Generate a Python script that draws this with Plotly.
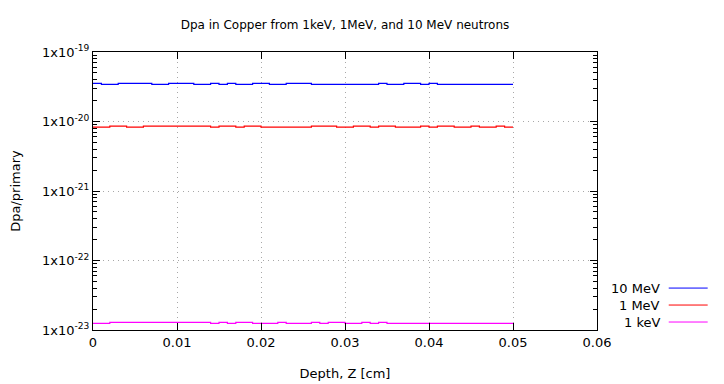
import plotly.graph_objects as go

# Bin left edges (cm), 50 bins of 0.001 cm from 0 to 0.05
depth_edges = [round(0.001 * i, 3) for i in range(51)]

# Dpa/primary per bin
H10, L10 = 3.53e-20, 3.41e-20
dpa_10MeV_pattern = "HLLHHHHLLHHHLLHLHLLHHLLHHHLLLLLLLLHLLHHLHLLLLLLLLL"
H1, L1 = 8.59e-21, 8.31e-21
dpa_1MeV_pattern = "LLHHLLHHHHHHHHLHHLHHLLLLLLHHHLLHHLHHLLLHLHHLLHLLHL"
Hk, Lk = 1.285e-23, 1.245e-23
dpa_1keV_pattern = "LLHHHHHHHHHHHHLHLHHLLLHLLLHLHHLLHLHLLLLLLLLLLLLLLL"

dpa_10MeV = [H10 if c == "H" else L10 for c in dpa_10MeV_pattern]
dpa_1MeV = [H1 if c == "H" else L1 for c in dpa_1MeV_pattern]
dpa_1keV = [Hk if c == "H" else Lk for c in dpa_1keV_pattern]

series_names = ["10 MeV", "1 MeV", "1 keV"]
series_values = [dpa_10MeV, dpa_1MeV, dpa_1keV]
series_colors = ["#0000ff", "#ff0000", "#ff00ff"]

x_tickvals = [0, 0.01, 0.02, 0.03, 0.04, 0.05, 0.06]
x_ticktext = ["0", "0.01", "0.02", "0.03", "0.04", "0.05", "0.06"]
y_exponents = [-19, -20, -21, -22, -23]

FONT = "DejaVu Sans"

fig = go.Figure()
for name, vals, col in zip(series_names, series_values, series_colors):
    fig.add_trace(go.Scatter(
        x=depth_edges,
        y=vals + [vals[-1]],
        mode="lines",
        line=dict(color=col, width=1.2, shape="hv"),
        name=name,
        showlegend=False,
    ))

minor_y = []
for e in range(-23, -19):
    for m in range(2, 10):
        minor_y.append(m * 10.0 ** e)

axis_common = dict(
    showline=True, linecolor="black", linewidth=1, mirror="ticks",
    ticks="inside", ticklen=7, tickcolor="black", tickwidth=1,
    showgrid=True, gridcolor="#a8a8a8", griddash="1px,4px", gridwidth=1,
    zeroline=False, automargin=False,
    tickfont=dict(family=FONT, size=13, color="black"),
)

fig.update_xaxes(
    range=[0, 0.06], tickmode="array", tickvals=x_tickvals, ticktext=x_ticktext,
    title=dict(text="Depth, Z [cm]", font=dict(family=FONT, size=13, color="black"), standoff=20),
    **axis_common,
)
fig.update_yaxes(
    type="log", range=[-23, -19], tickmode="array",
    tickvals=[10.0 ** e for e in y_exponents],
    ticktext=["1x10<sup>%d</sup>" % e for e in y_exponents],
    minor=dict(tickmode="array", tickvals=minor_y, ticks="inside", ticklen=4,
               tickcolor="black", showgrid=False),
    title=dict(text="Dpa/primary", font=dict(family=FONT, size=13, color="black"), standoff=24),
    **axis_common,
)

# gnuplot-style legend (text right-aligned, sample line to the right)
legend_y = [0.1508, 0.0898, 0.0287]
for name, col, ly in zip(series_names, series_colors, legend_y):
    fig.add_annotation(xref="paper", yref="paper", x=1.1284, y=ly, text=name,
                       showarrow=False, xanchor="right", yanchor="middle",
                       font=dict(family=FONT, size=13, color="black"))
    fig.add_shape(type="line", xref="paper", yref="paper",
                  x0=1.1423, x1=1.2196, y0=ly, y1=ly,
                  line=dict(color=col, width=1))

# page body has an 8px margin, so the figure is drawn at (8, 8)
fig.update_layout(
    width=716, height=376,
    margin=dict(l=85, r=127, t=44, b=53.5, autoexpand=False),
    paper_bgcolor="white", plot_bgcolor="white",
    title=dict(text="Dpa in Copper from 1keV, 1MeV, and 10 MeV neutrons",
               x=0.5, xref="paper", xanchor="center",
               y=1 - 17 / 376, yref="container", yanchor="middle",
               font=dict(family=FONT, size=12, color="black")),
    showlegend=False,
)

fig.write_html("out.html")
